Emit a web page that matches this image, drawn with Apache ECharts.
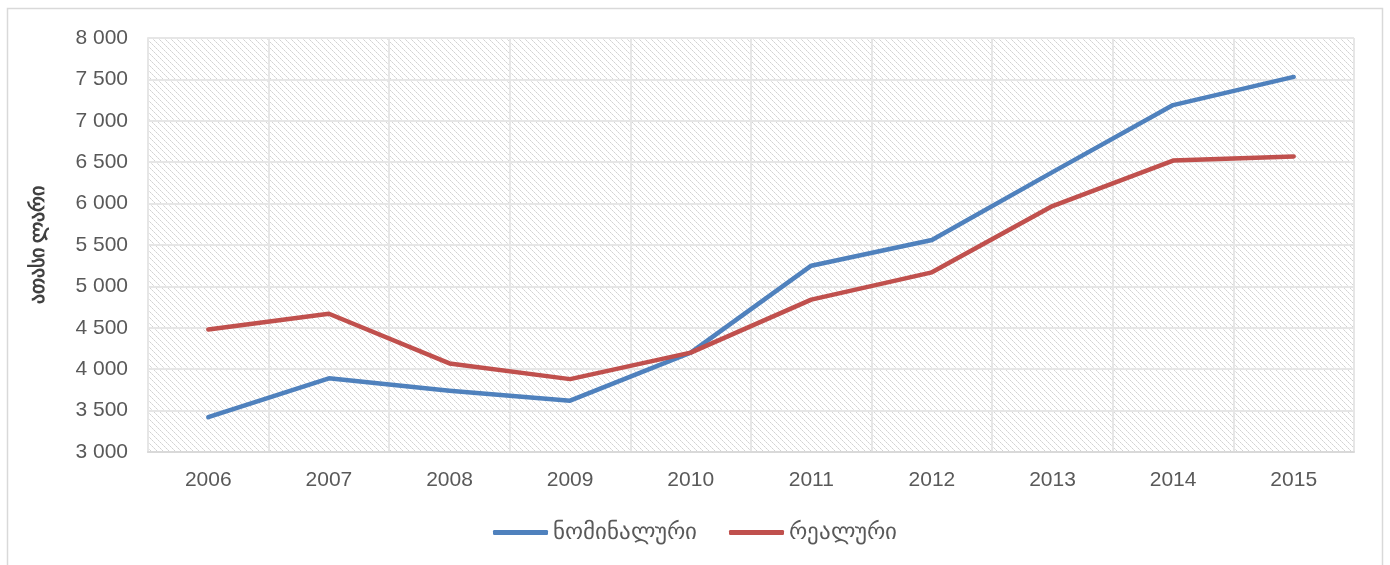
<!DOCTYPE html>
<html>
<head>
<meta charset="UTF-8">
<title>chart</title>
<script type="text/javascript" src="https://cdn.jsdelivr.net/npm/echarts@6/dist/echarts.min.js"></script>
<style>
    *{margin:0;padding:0}
    html,body{width:100%;height:100%;background:#fff}
    #main{width:1390px;height:565px}
</style>
</head>
<body>
<div id="main"></div>
<script type="text/javascript">
    var years = ['2006','2007','2008','2009','2010','2011','2012','2013','2014','2015'];
    var nominal = [3420, 3890, 3740, 3620, 4200, 5250, 5560, 6380, 7190, 7530];
    var real = [4480, 4670, 4070, 3880, 4200, 4840, 5170, 5970, 6520, 6570];
    var seriesNames = ['ნომინალური', 'რეალური'];

    // hatch fill for the plot area
    var hatch = document.createElement('canvas');
    hatch.width = 6; hatch.height = 6;
    var hc = hatch.getContext('2d');
    for (var i = 0; i < 6; i += 1) {
        hc.fillStyle = (i % 2 === 0) ? '#d2d2d2' : '#e2e2e2';
        hc.fillRect(i, i, 1, 1);
    }

    var font = '"Liberation Sans Narrow", "Arial Narrow", "Liberation Sans", sans-serif';

    var option = {
        animation: false,
        graphic: [{
            type: 'rect',
            shape: {x: 7.5, y: 8.5, width: 1375, height: 600},
            style: {fill: 'none', stroke: '#d9d9d9', lineWidth: 1.5},
            silent: true
        }],
        grid: {
            left: 148, right: 36, top: 38, bottom: 113,
            show: true,
            backgroundColor: {image: hatch, repeat: 'repeat'},
            borderWidth: 0
        },
        legend: {
            bottom: 16,
            left: 'center',
            icon: 'roundRect',
            itemWidth: 55,
            itemHeight: 5,
            itemGap: 32,
            textStyle: {fontSize: 23, color: '#595959'},
            data: seriesNames
        },
        xAxis: {
            type: 'category',
            data: years,
            boundaryGap: true,
            axisLine: {show: true, lineStyle: {color: '#d9d9d9', width: 2}},
            axisTick: {show: false},
            axisLabel: {fontSize: 21, color: '#595959', fontFamily: font, margin: 18},
            splitLine: {show: true, lineStyle: {color: '#e6e6e6', width: 2}}
        },
        yAxis: {
            type: 'value',
            min: 3000, max: 8000, interval: 500,
            name: 'ათასი ლარი',
            nameLocation: 'middle',
            nameRotate: 90,
            nameGap: 100,
            nameTextStyle: {fontSize: 20, color: '#404040', fontWeight: 'bold'},
            axisLine: {show: true, lineStyle: {color: '#e6e6e6', width: 2}},
            axisTick: {show: false},
            axisLabel: {
                fontSize: 21, color: '#595959', fontFamily: font, margin: 20,
                formatter: function (v) {
                    var s = String(v);
                    return s.slice(0, s.length - 3) + ' ' + s.slice(-3);
                }
            },
            splitLine: {show: true, lineStyle: {color: '#e6e6e6', width: 2}}
        },
        series: [
            {
                name: seriesNames[0], type: 'line', data: nominal,
                symbol: 'none',
                lineStyle: {color: '#4f81bd', width: 4.5, cap: 'round', join: 'round'},
                itemStyle: {color: '#4f81bd'}
            },
            {
                name: seriesNames[1], type: 'line', data: real,
                symbol: 'none',
                lineStyle: {color: '#c0504d', width: 4.5, cap: 'round', join: 'round'},
                itemStyle: {color: '#c0504d'}
            }
        ]
    };

    var myChart = echarts.init(document.getElementById('main'));
    myChart.setOption(option);
</script>
</body>
</html>
